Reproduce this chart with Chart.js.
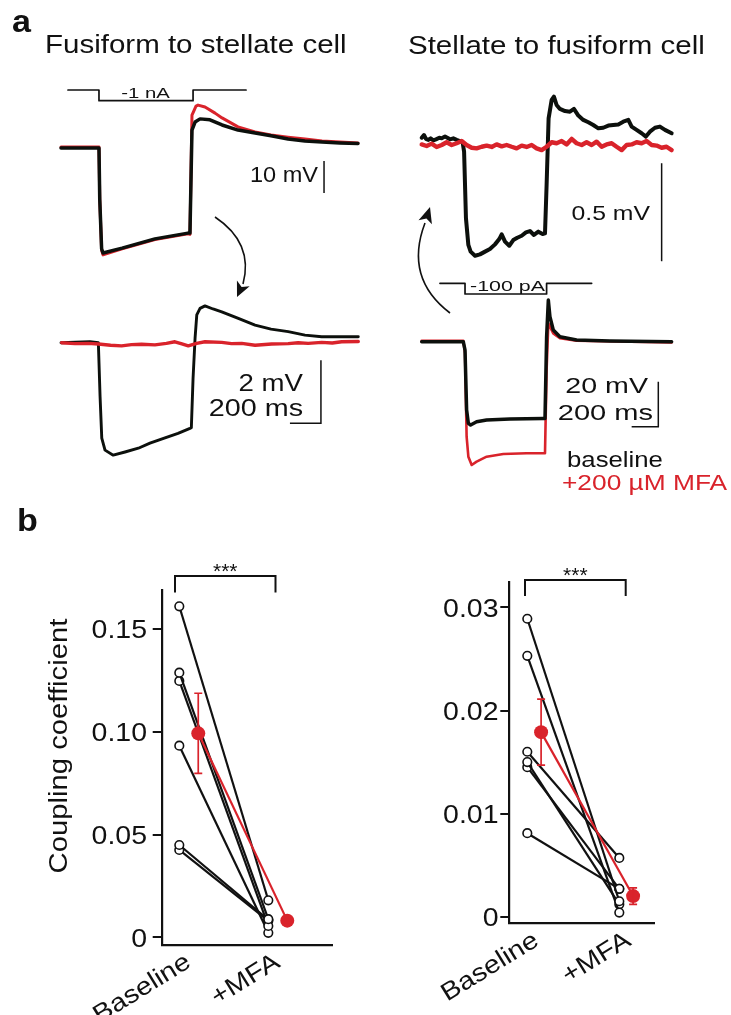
<!DOCTYPE html>
<html>
<head>
<meta charset="utf-8">
<script src="https://cdn.jsdelivr.net/npm/chart.js"></script>
<style>
  html, body { margin: 0; background: #fff; }
  #page { position: relative; width: 731px; height: 1015px; overflow: hidden; background: #fff; }
  #page canvas { position: absolute; left: 0; top: 0; }
</style>
</head>
<body>
<div id="page">
  <canvas id="tl" width="731" height="1015"></canvas>
  <canvas id="bl" width="731" height="1015"></canvas>
  <canvas id="tr" width="731" height="1015"></canvas>
  <canvas id="br" width="731" height="1015"></canvas>
  <canvas id="cc1" width="731" height="1015"></canvas>
  <canvas id="cc2" width="731" height="1015"></canvas>
</div>
<script>
// ---------- panel a: voltage traces (t in ms, V in mV) ----------
// fusiform -> stellate, recorded in the injected fusiform cell (-1 nA step)
const tlBaseT = [0, 245, 250, 262, 271, 394, 606, 819, 832, 845, 865, 897, 961, 1039, 1142, 1252, 1355, 1465, 1574, 1684, 1800, 1916];
const tlBaseV = [0, 0, -16, -31.5, -32.8, -31.3, -28.4, -26.6, -26.6, 5.6, 8.1, 9.1, 8.8, 7.2, 5.6, 4.7, 3.8, 2.8, 2.2, 1.9, 1.6, 1.4];
const tlMfaT = [0, 245, 250, 262, 271, 394, 606, 819, 832, 845, 871, 884, 929, 994, 1039, 1142, 1252, 1355, 1465, 1574, 1684, 1800, 1916];
const tlMfaV = [0.3, 0.3, -16, -32, -33.4, -31.5, -28.6, -26.8, -27, 10.3, 13.1, 13.4, 12.8, 10.9, 9.4, 6.6, 5.0, 4.1, 3.4, 2.8, 2.2, 1.9, 1.6];
const tlStepT = [45, 245, 245, 852, 852, 1194];
const tlStepI = [0, 0, -1, -1, 0, 0];

// response of the coupled stellate cell
const blBaseT = [0, 187, 241, 252, 263, 284, 337, 413, 499, 574, 671, 755, 832, 841, 852, 865, 876, 897, 929, 981, 1037, 1144, 1252, 1355, 1466, 1574, 1682, 1800, 1918];
const blBaseV = [0, 0.03, 0, -1.7, -3.03, -3.41, -3.57, -3.47, -3.35, -3.19, -3.02, -2.88, -2.72, -2.70, -1.13, 0.15, 0.88, 1.09, 1.17, 1.07, 0.98, 0.77, 0.56, 0.43, 0.35, 0.24, 0.19, 0.19, 0.19];
const blMfaT = [4, 90, 176, 241, 320, 391, 455, 520, 606, 680, 735, 780, 821, 875, 929, 1037, 1100, 1166, 1252, 1359, 1466, 1530, 1595, 1682, 1750, 1811, 1918];
const blMfaV = [0, -0.03, -0.02, -0.04, -0.08, -0.10, -0.06, -0.05, -0.07, -0.02, 0.03, -0.04, -0.10, -0.02, 0.03, 0.01, -0.03, -0.02, -0.08, -0.04, -0.03, 0.0, -0.02, 0.01, -0.01, 0.03, 0.04];

// stellate -> fusiform, coupled fusiform cell response
const trBaseT = [0, 17, 32, 50, 67, 87, 107, 132, 150, 175, 192, 212, 237, 262, 287, 307, 318, 332, 350, 367, 400, 437, 475, 512, 550, 582, 600, 625, 657, 687, 717, 750, 782, 812, 842, 875, 907, 925, 937, 952, 975, 992, 1012, 1037, 1075, 1112, 1142, 1175, 1212, 1250, 1287, 1325, 1362, 1400, 1437, 1475, 1512, 1550, 1575, 1612, 1650, 1682, 1712, 1750, 1787, 1825, 1875];
const trBaseV = [0.037, 0.051, 0.031, 0.026, 0.034, 0.024, 0.029, 0.037, 0.034, 0.043, 0.037, 0.029, 0.034, 0.026, 0.020, 0.014, -0.034, -0.374, -0.510, -0.544, -0.565, -0.558, -0.544, -0.531, -0.507, -0.480, -0.456, -0.493, -0.514, -0.485, -0.473, -0.463, -0.446, -0.439, -0.459, -0.442, -0.454, -0.451, -0.204, 0.136, 0.230, 0.247, 0.204, 0.184, 0.173, 0.170, 0.184, 0.150, 0.128, 0.116, 0.102, 0.085, 0.088, 0.099, 0.102, 0.105, 0.119, 0.128, 0.094, 0.077, 0.060, 0.043, 0.068, 0.088, 0.094, 0.077, 0.060];
const trMfaT = [0, 37, 75, 112, 150, 187, 225, 262, 300, 337, 375, 412, 450, 487, 525, 562, 600, 637, 675, 712, 750, 787, 825, 862, 900, 937, 975, 1012, 1050, 1087, 1125, 1162, 1200, 1237, 1275, 1312, 1350, 1387, 1425, 1462, 1500, 1537, 1575, 1612, 1650, 1687, 1725, 1762, 1800, 1837, 1875];
const trMfaV = [0.003, -0.005, 0.007, -0.010, 0, 0.014, 0, 0.009, 0.020, 0, -0.014, -0.017, -0.009, -0.003, -0.010, 0.003, -0.007, 0, -0.009, -0.017, -0.003, -0.010, 0, -0.017, -0.026, -0.009, 0.014, 0.009, 0.020, 0.003, 0.031, 0.009, 0, 0.014, 0, 0.017, -0.009, 0.003, 0.009, -0.009, -0.026, 0, 0.003, 0.014, 0.009, 0.020, 0, -0.003, -0.014, -0.009, -0.026];

// injected stellate cell (-100 pA step)
const brBaseT = [0, 312, 325, 337, 350, 367, 412, 487, 662, 912, 925, 937, 950, 962, 987, 1037, 1162, 1412, 1875];
const brBaseV = [0, 0, -3.7, -30.4, -36.3, -37.0, -35.6, -34.8, -34.4, -34.1, -34.1, 2.2, 18.5, 11.1, 5.2, 2.2, 0.74, 0.3, 0];
const brMfaT = [0, 312, 325, 337, 350, 375, 412, 487, 612, 787, 925, 937, 950, 962, 987, 1037, 1162, 1875];
const brMfaV = [0.44, 0.44, -5, -42.2, -51.1, -54.8, -53.3, -51.1, -49.9, -49.6, -49.6, -12.6, 8.2, 6.7, 3.7, 1.5, 0.44, -0.3];
const brStepT = [137, 325, 325, 937, 937, 1275];
const brStepI = [0, 0, -100, -100, 0, 0];

// ---------- panel b: coupling coefficients ----------
const groups = ['Baseline', '+MFA'];
const ccLeftBase = [0.161, 0.1287, 0.1247, 0.0932, 0.0449, 0.0425];
const ccLeftMfa = [0.018, 0.0088, 0.0055, 0.0022, 0.0085, 0.0080];
const ccLeftMean = [0.0992, 0.0081];
const ccLeftSem = [0.0195, 0.0008];
const ccLeftTicks = [0, 0.05, 0.10, 0.15];
const ccLeftTickLabels = ['0', '0.05', '0.10', '0.15'];

const ccRightBase = [0.0289, 0.0253, 0.0160, 0.0150, 0.0145, 0.0081];
const ccRightMfa = [0.0015, 0.0004, 0.0057, 0.0012, 0.0027, 0.0027];
const ccRightMean = [0.0179, 0.0020];
const ccRightSem = [0.0032, 0.0008];
const ccRightTicks = [0, 0.01, 0.02, 0.03];
const ccRightTickLabels = ['0', '0.01', '0.02', '0.03'];

// ---------- drawing ----------
const W = 731, H = 1015;
const INK = '#111';
const TRACE = '#0c100c';
const RED = '#d9232b';
const FONT = '"Liberation Sans", Arial, Helvetica, sans-serif';

function label(ctx, str, x, y, size, align, sx, o) {
  o = o || {};
  ctx.save();
  ctx.translate(x, y);
  if (o.rot) ctx.rotate(o.rot);
  ctx.scale(sx || 1, 1);
  ctx.font = (o.bold ? 'bold ' : '') + size + 'px ' + FONT;
  ctx.fillStyle = o.color || INK;
  ctx.textAlign = align || 'left';
  ctx.textBaseline = 'alphabetic';
  ctx.fillText(str, 0, 0);
  ctx.restore();
}

function arrow(ctx, p0, c, p1, tip, len, half) {
  ctx.save();
  ctx.strokeStyle = INK; ctx.fillStyle = INK; ctx.lineWidth = 1.6;
  ctx.beginPath(); ctx.moveTo(p0[0], p0[1]); ctx.quadraticCurveTo(c[0], c[1], p1[0], p1[1]); ctx.stroke();
  const dx = tip[0] - p1[0], dy = tip[1] - p1[1], d = Math.hypot(dx, dy), ux = dx / d, uy = dy / d;
  const bx = tip[0] - ux * len, by = tip[1] - uy * len;
  ctx.beginPath();
  ctx.moveTo(tip[0], tip[1]);
  ctx.lineTo(bx - uy * half, by + ux * half);
  ctx.lineTo(bx + ux * 4, by + uy * 4);
  ctx.lineTo(bx + uy * half, by - ux * half);
  ctx.closePath(); ctx.fill();
  ctx.restore();
}

function pts(ts, vs) { return ts.map((t, i) => ({ x: t, y: vs[i] })); }

function line(data, color, width, order, axis) {
  return { data, borderColor: color, borderWidth: width, order, yAxisID: axis || 'y',
           pointRadius: 0, tension: 0, fill: false, clip: false, borderJoinStyle: 'round', borderCapStyle: 'round' };
}

function traceDecor(o) {
  return {
    id: 'decor',
    afterDraw(chart) {
      const ctx = chart.ctx, x = chart.scales.x, y = chart.scales.y;
      const b = o.bar;
      const cx = x.getPixelForValue(b.t), cy = y.getPixelForValue(b.v);
      ctx.save();
      ctx.strokeStyle = INK; ctx.lineWidth = 1.5;
      ctx.beginPath();
      ctx.moveTo(cx, y.getPixelForValue(b.v + b.dv));
      ctx.lineTo(cx, cy);
      if (b.dt) ctx.lineTo(x.getPixelForValue(b.t - b.dt), cy);
      ctx.stroke();
      ctx.restore();
      o.texts.forEach(t => label(ctx, t[0], t[1], t[2], t[3], t[4], t[5], t[6]));
      if (o.extra) o.extra(ctx);
    }
  };
}

function traceChart(id, box, m, datasets, decor) {
  return new Chart(document.getElementById(id), {
    type: 'line',
    data: { datasets },
    options: {
      responsive: false, animation: false, devicePixelRatio: 1, events: [],
      layout: { autoPadding: false, padding: { left: box.l, top: box.t, right: W - box.r, bottom: H - box.b } },
      plugins: { legend: { display: false }, tooltip: { enabled: false } },
      scales: {
        x: { type: 'linear', display: false, min: (box.l - m.x0) / m.px, max: (box.r - m.x0) / m.px },
        y: { type: 'linear', display: false, min: (m.y0 - box.b) / m.py, max: (m.y0 - box.t) / m.py },
        yI: { type: 'linear', axis: 'y', display: false, min: (m.i0 - box.b) / m.pi, max: (m.i0 - box.t) / m.pi }
      }
    },
    plugins: [traceDecor(decor)]
  });
}

// top left
traceChart('tl', { l: 55, r: 365, t: 70, b: 275 }, { x0: 61, px: 0.155, y0: 148, py: 3.2, i0: 90, pi: 10.7 }, [
  line(pts(tlBaseT, tlBaseV), TRACE, 3.5, 0),
  line(pts(tlMfaT, tlMfaV), RED, 3, 1),
  line(pts(tlStepT, tlStepI), INK, 1.7, 2, 'yI')
], {
  bar: { t: 1697, v: -14.06, dv: 10 },
  texts: [
    ['a', 12, 32, 31, 'left', 1.1, { bold: true }],
    ['Fusiform to stellate cell', 45, 53, 25, 'left', 1.18],
    ['Stellate to fusiform cell', 408, 53.5, 25, 'left', 1.18],
    ['-1 nA', 145.5, 97.5, 14.5, 'center', 1.4],
    ['10 mV', 318, 181.5, 22, 'right', 1.07]
  ],
  extra: ctx => arrow(ctx, [215, 217], [254, 243], [243, 284], [237, 297], 15, 7)
});

// bottom left
traceChart('bl', { l: 55, r: 365, t: 285, b: 470 }, { x0: 61, px: 0.155, y0: 342.7, py: 31.5, i0: 0, pi: 1 }, [
  line(pts(blMfaT, blMfaV), RED, 3.4, 0),
  line(pts(blBaseT, blBaseV), TRACE, 2.9, 1)
], {
  bar: { t: 1677, v: -2.56, dv: 2, dt: 200 },
  texts: [
    ['2 mV', 303, 391, 23, 'right', 1.2],
    ['200 ms', 303, 415.5, 23, 'right', 1.25]
  ]
});

// top right
traceChart('tr', { l: 410, r: 685, t: 80, b: 270 }, { x0: 421.7, px: 0.1333, y0: 145, py: 196, i0: 0, pi: 1 }, [
  line(pts(trMfaT, trMfaV), RED, 4.4, 0),
  line(pts(trBaseT, trBaseV), TRACE, 4, 1)
], {
  bar: { t: 1800, v: -0.593, dv: 0.5 },
  texts: [['0.5 mV', 650, 219.5, 21, 'right', 1.18]],
  extra: ctx => arrow(ctx, [450, 313], [404, 278], [425, 223], [430, 207], 16, 7)
});

// bottom right
traceChart('br', { l: 410, r: 685, t: 275, b: 475 }, { x0: 421.7, px: 0.1333, y0: 341.7, py: 2.25, i0: 283.3, pi: 0.107 }, [
  line(pts(brBaseT, brBaseV), TRACE, 3.5, 0),
  line(pts(brMfaT, brMfaV), RED, 2.6, 1),
  line(pts(brStepT, brStepI), INK, 1.7, 2, 'yI')
], {
  bar: { t: 1775, v: -37.8, dv: 20, dt: 200 },
  texts: [
    ['-100 pA', 507.5, 290.7, 15.5, 'center', 1.38],
    ['20 mV', 648, 393.3, 22, 'right', 1.3],
    ['200 ms', 653, 420, 22, 'right', 1.32],
    ['baseline', 567, 466.5, 22, 'left', 1.17],
    ['+200 µM MFA', 562, 490, 22.5, 'left', 1.17, { color: RED }]
  ]
});

// ---------- panel b charts ----------
function ccDecor(o) {
  return {
    id: 'ccDecor',
    afterDatasetsDraw(chart) {
      const ctx = chart.ctx, x = chart.scales.x, y = chart.scales.y;
      ctx.save();
      ctx.strokeStyle = RED; ctx.lineWidth = 1.7;
      o.mean.forEach((mv, i) => {
        const px = x.getPixelForValue(i + o.shift);
        const top = y.getPixelForValue(mv + o.sem[i]), bot = y.getPixelForValue(mv - o.sem[i]);
        ctx.beginPath();
        ctx.moveTo(px, top); ctx.lineTo(px, bot);
        ctx.moveTo(px - 4, top); ctx.lineTo(px + 4, top);
        ctx.moveTo(px - 4, bot); ctx.lineTo(px + 4, bot);
        ctx.stroke();
      });
      ctx.restore();
    },
    afterDraw(chart) {
      const ctx = chart.ctx, x = chart.scales.x, y = chart.scales.y, area = chart.chartArea;
      // y tick labels
      y.ticks.forEach((t, i) => {
        label(ctx, o.tickLabels[i], o.labelRight, y.getPixelForValue(t.value) + 9.2, 25, 'right', 1.14);
      });
      // x category labels
      x.ticks.forEach((t, i) => {
        label(ctx, groups[i], x.getPixelForValue(t.value) + 13, area.bottom + 21, 25, 'right', 1.14, { rot: -31.7 * Math.PI / 180 });
      });
      // significance bracket
      const br = o.bracket;
      ctx.save();
      ctx.strokeStyle = INK; ctx.lineWidth = 2;
      ctx.beginPath();
      ctx.moveTo(br.x0, br.y1); ctx.lineTo(br.x0, br.y0); ctx.lineTo(br.x1, br.y0); ctx.lineTo(br.x1, br.y1);
      ctx.stroke();
      ctx.restore();
      label(ctx, '***', (br.x0 + br.x1) / 2, br.y0 + 1.5, 21, 'center', 1);
      if (o.title) {
        label(ctx, 'Coupling coefficient', 66.5, 746, 25, 'center', 1.17, { rot: -Math.PI / 2 });
        label(ctx, 'b', 17, 531, 31, 'left', 1.1, { bold: true });
      }
    }
  };
}

function ccChart(id, box, m, base, mfa, mean, sem, ticks, tickLabels, decor) {
  const sets = base.map((b, i) => ({
    data: [{ x: 0, y: b }, { x: 1, y: mfa[i] }],
    borderColor: INK, borderWidth: 2.2, order: 1, clip: false,
    pointRadius: 4.3, pointBorderWidth: 1.6, pointBorderColor: INK, pointBackgroundColor: '#fff'
  }));
  sets.push({
    data: mean.map((v, i) => ({ x: i + decor.shift, y: v })),
    borderColor: RED, borderWidth: 2.2, order: 0, clip: false,
    pointRadius: 7, pointBorderWidth: 0, pointBackgroundColor: RED
  });
  decor.mean = mean; decor.sem = sem; decor.tickLabels = tickLabels;
  return new Chart(document.getElementById(id), {
    type: 'line',
    data: { datasets: sets },
    options: {
      responsive: false, animation: false, devicePixelRatio: 1, events: [],
      layout: { autoPadding: false, padding: { left: box.l - 9, top: box.t, right: W - box.r, bottom: H - box.b } },
      plugins: { legend: { display: false }, tooltip: { enabled: false } },
      elements: { line: { tension: 0 } },
      scales: {
        x: {
          type: 'linear', min: (box.l - m.x0) / m.px, max: (box.r - m.x0) / m.px,
          grid: { display: false }, border: { display: true, color: INK, width: 2.2 },
          ticks: { display: false },
          afterBuildTicks: s => { s.ticks = [{ value: 0 }, { value: 1 }]; },
          afterFit: s => { s.height = 0; }
        },
        y: {
          type: 'linear', min: (m.y0 - box.b) / m.py, max: (m.y0 - box.t) / m.py,
          grid: { display: true, drawOnChartArea: false, drawTicks: true, tickLength: 9, color: INK, lineWidth: 2 },
          border: { display: true, color: INK, width: 2.2 },
          ticks: { display: false },
          afterBuildTicks: s => { s.ticks = ticks.map(v => ({ value: v })); },
          afterFit: s => { s.width = 9; }
        }
      }
    },
    plugins: [ccDecor(decor)]
  });
}

ccChart('cc1', { l: 161.7, r: 333, t: 590, b: 945 }, { x0: 179.3, px: 89, y0: 937.3, py: 2056 },
  ccLeftBase, ccLeftMfa, ccLeftMean, ccLeftSem, ccLeftTicks, ccLeftTickLabels,
  { shift: 0.213, labelRight: 147, title: true, bracket: { x0: 175, x1: 275.5, y0: 576, y1: 592.5 } });

ccChart('cc2', { l: 509.3, r: 654, t: 582, b: 923.3 }, { x0: 527.3, px: 92, y0: 916.7, py: 10310 },
  ccRightBase, ccRightMfa, ccRightMean, ccRightSem, ccRightTicks, ccRightTickLabels,
  { shift: 0.15, labelRight: 498.5, title: false, bracket: { x0: 525, x1: 625.7, y0: 580, y1: 596 } });
</script>
</body>
</html>
